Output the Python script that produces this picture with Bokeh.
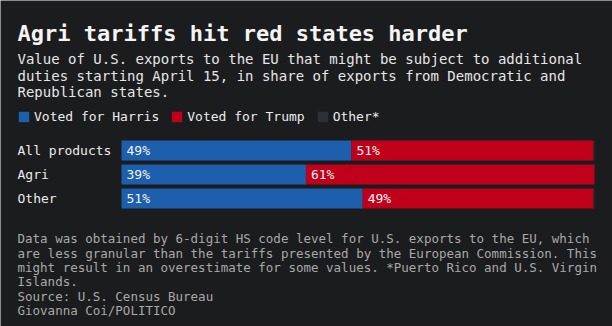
from bokeh.plotting import figure
from bokeh.models import (ColumnDataSource, Label, LabelSet, Legend, LegendItem, Range1d)
from bokeh.core.properties import value
from bokeh.embed import file_html
from bokeh.resources import INLINE

# ---------------- data ----------------
categories = ["All products", "Agri", "Other"]
harris = [48.6, 39.0, 51.0]
trump = [51.2, 61.0, 48.8]
other = [0.2, 0.0, 0.2]
series_names = ["Voted for Harris", "Voted for Trump", "Other*"]

title_text = "Agri tariffs hit red states harder"
subtitle_lines = [
    "Value of U.S. exports to the EU that might be subject to additional",
    "duties starting April 15, in share of exports from Democratic and",
    "Republican states.",
]
footnote_lines = [
    "Data was obtained by 6-digit HS code level for U.S. exports to the EU, which",
    "are less granular than the tariffs presented by the European Commission. This",
    "might result in an overestimate for some values. *Puerto Rico and U.S. Virgin",
    "Islands.",
    "Source: U.S. Census Bureau",
    "Giovanna Coi/POLITICO",
]

# ---------------- layout / style ----------------
W, H = 612, 326
FONT = "DejaVu Sans Mono"
BG = "#1b1c1e"
colors = ["#1d5ead", "#c0001b", "#2d3034"]
TXT = "#ececec"
FOOT = "#a9a9a9"

BAR_L, BAR_R = 121, 594               # pixel extent of 0..100 %
ROW0, ROW_STEP, BAR_H = 150, 24, 20   # first row centre, row pitch, bar height (px)
px_per_unit = (BAR_R - BAR_L) / 100.0
x_start = -BAR_L / px_per_unit
x_end = 100 + (W - BAR_R) / px_per_unit
y_top = -ROW0 / ROW_STEP
y_bottom = (H - ROW0) / ROW_STEP

rows = list(range(len(categories)))
src = ColumnDataSource(dict(
    row=rows, harris=harris, trump=trump, other=other,
    h_end=[h for h in harris],
    t_end=[h + t for h, t in zip(harris, trump)],
    o_end=[h + t + o for h, t, o in zip(harris, trump, other)],
    zero=[0] * len(categories),
    cat_label=categories,
    h_lab=[f"{round(v)}%" for v in harris],
    t_lab=[f"{round(v)}%" for v in trump],
))

p = figure(width=W, height=H,
           x_range=Range1d(x_start, x_end), y_range=Range1d(y_bottom, y_top),
           output_backend="svg", toolbar_location=None,
           x_axis_location=None, y_axis_location=None,
           min_border=0, min_border_left=0, min_border_right=0,
           min_border_top=0, min_border_bottom=0)
p.background_fill_color = BG
p.border_fill_color = BG
p.outline_line_color = None
p.grid.visible = False

bh = BAR_H / ROW_STEP
r_h = p.hbar(y="row", left="zero", right="h_end", height=bh, source=src,
             fill_color=colors[0], line_color=None)
r_t = p.hbar(y="row", left="h_end", right="t_end", height=bh, source=src,
             fill_color=colors[1], line_color=None)
r_o = p.hbar(y="row", left="t_end", right="o_end", height=bh, source=src,
             fill_color=colors[2], line_color=None)

# value labels inside bars
for xcol, tcol in (("zero", "h_lab"), ("h_end", "t_lab")):
    p.add_layout(LabelSet(x=xcol, y="row", text=tcol, source=src, x_offset=5,
                          text_align="left", text_baseline="middle",
                          text_font=value(FONT), text_font_size="13px",
                          text_color="#f4f4f4"))
# category labels
p.add_layout(LabelSet(x="zero", y="row", text="cat_label", source=src,
                      x_offset=17 - BAR_L, text_align="left", text_baseline="middle",
                      text_font=value(FONT), text_font_size="13px", text_color=TXT))

# legend
legend = Legend(items=[LegendItem(label=n, renderers=[r])
                       for n, r in zip(series_names, [r_h, r_t, r_o])],
                location=(17, H - 124), orientation="horizontal",
                glyph_width=13, glyph_height=13, label_standoff=4, spacing=11,
                padding=0, margin=0, border_line_alpha=0, background_fill_alpha=0,
                label_text_font=FONT, label_text_font_size="13px",
                label_text_color=TXT, label_height=13)
p.add_layout(legend)

# title, subtitle, footnote
p.add_layout(Label(x=17, y=33, x_units="canvas", y_units="canvas", text=title_text,
                   text_font=FONT, text_font_size="22px", text_font_style="bold",
                   text_color="#f4f4f4", text_baseline="alphabetic"))
for i, line in enumerate(subtitle_lines):
    p.add_layout(Label(x=17, y=58.3 + i * 16.7, x_units="canvas", y_units="canvas",
                       text=line, text_font=FONT, text_font_size="14px",
                       text_color="#e6e6e6", text_baseline="alphabetic"))
for i, line in enumerate(footnote_lines):
    p.add_layout(Label(x=17, y=238.3 + i * 14.3, x_units="canvas", y_units="canvas",
                       text=line, text_font=FONT, text_font_size="12.5px",
                       text_color=FOOT, text_baseline="alphabetic"))

open("out.html", "w").write(file_html(p, INLINE))
